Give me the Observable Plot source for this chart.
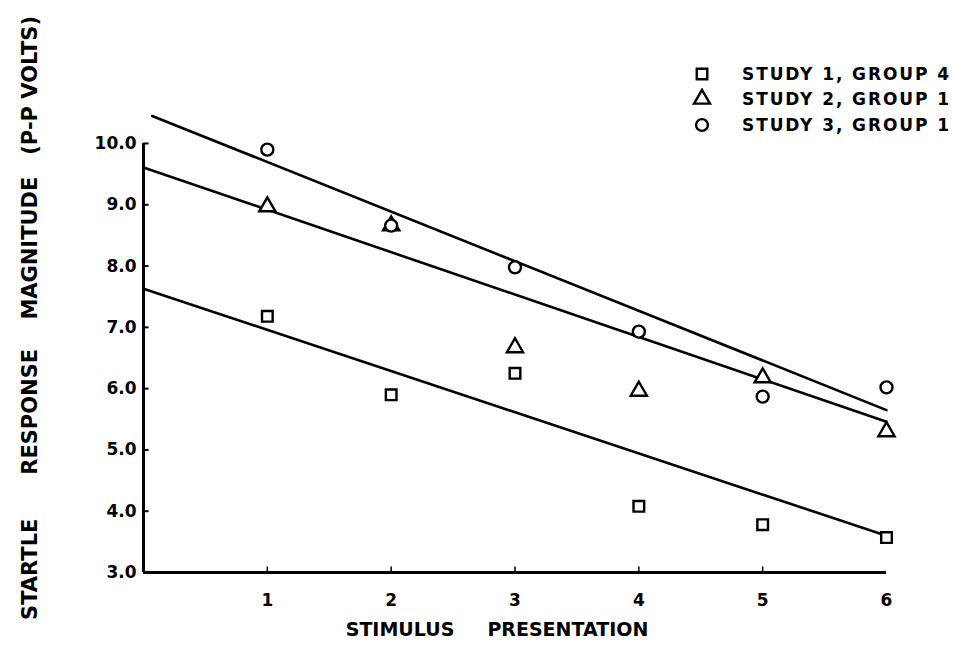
<!DOCTYPE html>
<html><head><meta charset="utf-8">
<script src="https://cdn.jsdelivr.net/npm/d3@7"></script>
<script src="https://cdn.jsdelivr.net/npm/@observablehq/plot@0.6"></script>
<style>
body{margin:0;background:#fff}
#wrap{position:relative;width:954px;height:654px;background:#fff}
#wrap svg{display:block}
#legend{position:absolute;left:691px;top:61px;font-family:"DejaVu Sans";font-weight:bold;font-size:17px;letter-spacing:1.9px;color:#000}
#legend .row{display:flex;align-items:center;height:25.5px;white-space:pre}
#legend svg{width:22px;height:22px;margin-right:29px}
</style>
</head><body><div id="wrap"><div id="chart"></div><div id="legend"></div></div>
<script>
// ---- data ----
const presentations = [1, 2, 3, 4, 5, 6];
const study1Group4 = [7.18, 5.90, 6.25, 4.08, 3.78, 3.57];
const study2Group1 = [8.97, 8.66, 6.67, 5.96, 6.18, 5.30];
const study3Group1 = [9.90, 8.66, 7.98, 6.93, 5.87, 6.02];
const seriesNames = ["STUDY 1, GROUP 4", "STUDY 2, GROUP 1", "STUDY 3, GROUP 1"];
const seriesSymbols = ["square", "triangle", "circle"];
// fitted straight lines (start/end) per series
const fitX = [[0, 6], [0, 6], [0.07, 6]];
const fitY = [[7.63, 3.60], [9.61, 5.46], [10.45, 5.65]];
const yTicks = [3, 4, 5, 6, 7, 8, 9, 10];
const xTicks = [1, 2, 3, 4, 5, 6];
const xTitle = "STIMULUS\u00a0\u00a0\u00a0\u00a0\u00a0PRESENTATION";
const yTitle = "STARTLE\u00a0\u00a0\u00a0\u00a0\u00a0\u00a0RESPONSE\u00a0\u00a0\u00a0\u00a0MAGNITUDE\u00a0\u00a0\u00a0(P-P\u00a0VOLTS)";

const seriesValues = [study1Group4, study2Group1, study3Group1];
const points = seriesValues.flatMap((vals, s) =>
  presentations.map((p, i) => ({x: p, y: vals[i], series: seriesNames[s], symbol: seriesSymbols[s]})));
const fits = fitX.flatMap((xs, s) => xs.map((x, j) => ({x, y: fitY[s][j], series: seriesNames[s]})));

const chart = Plot.plot({
  width: 954, height: 654,
  marginLeft: 143, marginRight: 68, marginTop: 143, marginBottom: 82,
  x: {domain: [0, 6], label: null},
  y: {domain: [3, 10], label: null},
  symbol: {domain: seriesSymbols, range: seriesSymbols},
  style: {fontFamily: "DejaVu Sans", fontWeight: "bold", fontSize: "17px", color: "#000", background: "#fff", overflow: "visible"},
  marks: [
    Plot.axisY(yTicks, {tickSize: 0, tickPadding: 7, tickFormat: d => d.toFixed(1), label: null, fontSize: 17}),
    Plot.axisX(xTicks, {tickSize: 0, tickPadding: 21, tickFormat: d => String(d), label: null, fontSize: 17}),
    Plot.ruleX([0], {y1: 3, y2: 10, stroke: "#000", strokeWidth: 3}),
    Plot.ruleY([3], {x1: 0, x2: 6, stroke: "#000", strokeWidth: 3}),
    Plot.ruleY(yTicks.slice(1), {x1: 0, x2: 0.045, stroke: "#000", strokeWidth: 2}),
    Plot.ruleX(xTicks.slice(0, 5), {y1: 3, y2: 3.09, stroke: "#000", strokeWidth: 1.5}),
    Plot.line(fits, {x: "x", y: "y", z: "series", stroke: "#000", strokeWidth: 2.6}),
    Plot.dot(points, {x: "x", y: "y", symbol: "symbol", r: 6, fill: "#fff", stroke: "#000", strokeWidth: 2.4}),
    Plot.text([xTitle], {frameAnchor: "bottom", textAnchor: "middle", dx: -18, dy: 63, text: d => d, fontSize: 19, fontWeight: "bold"}),
    Plot.text([yTitle], {frameAnchor: "left", textAnchor: "middle", dx: -113, dy: -40, rotate: -90, text: d => d, fontSize: 21, fontWeight: "bold"})
  ]
});
document.getElementById("chart").append(chart);

// legend
const legend = d3.select("#legend");
seriesNames.forEach((name, i) => {
  const row = legend.append("div").attr("class", "row");
  const svg = row.append("svg").attr("viewBox", "-11 -11 22 22");
  const type = seriesSymbols[i] === "square" ? d3.symbolSquare : seriesSymbols[i] === "triangle" ? d3.symbolTriangle : d3.symbolCircle;
  svg.append("path")
    .attr("d", d3.symbol(type, 110)())
    .attr("fill", "#fff").attr("stroke", "#000").attr("stroke-width", 2.4);
  row.append("span").text(name);
});
</script>
</body></html>
